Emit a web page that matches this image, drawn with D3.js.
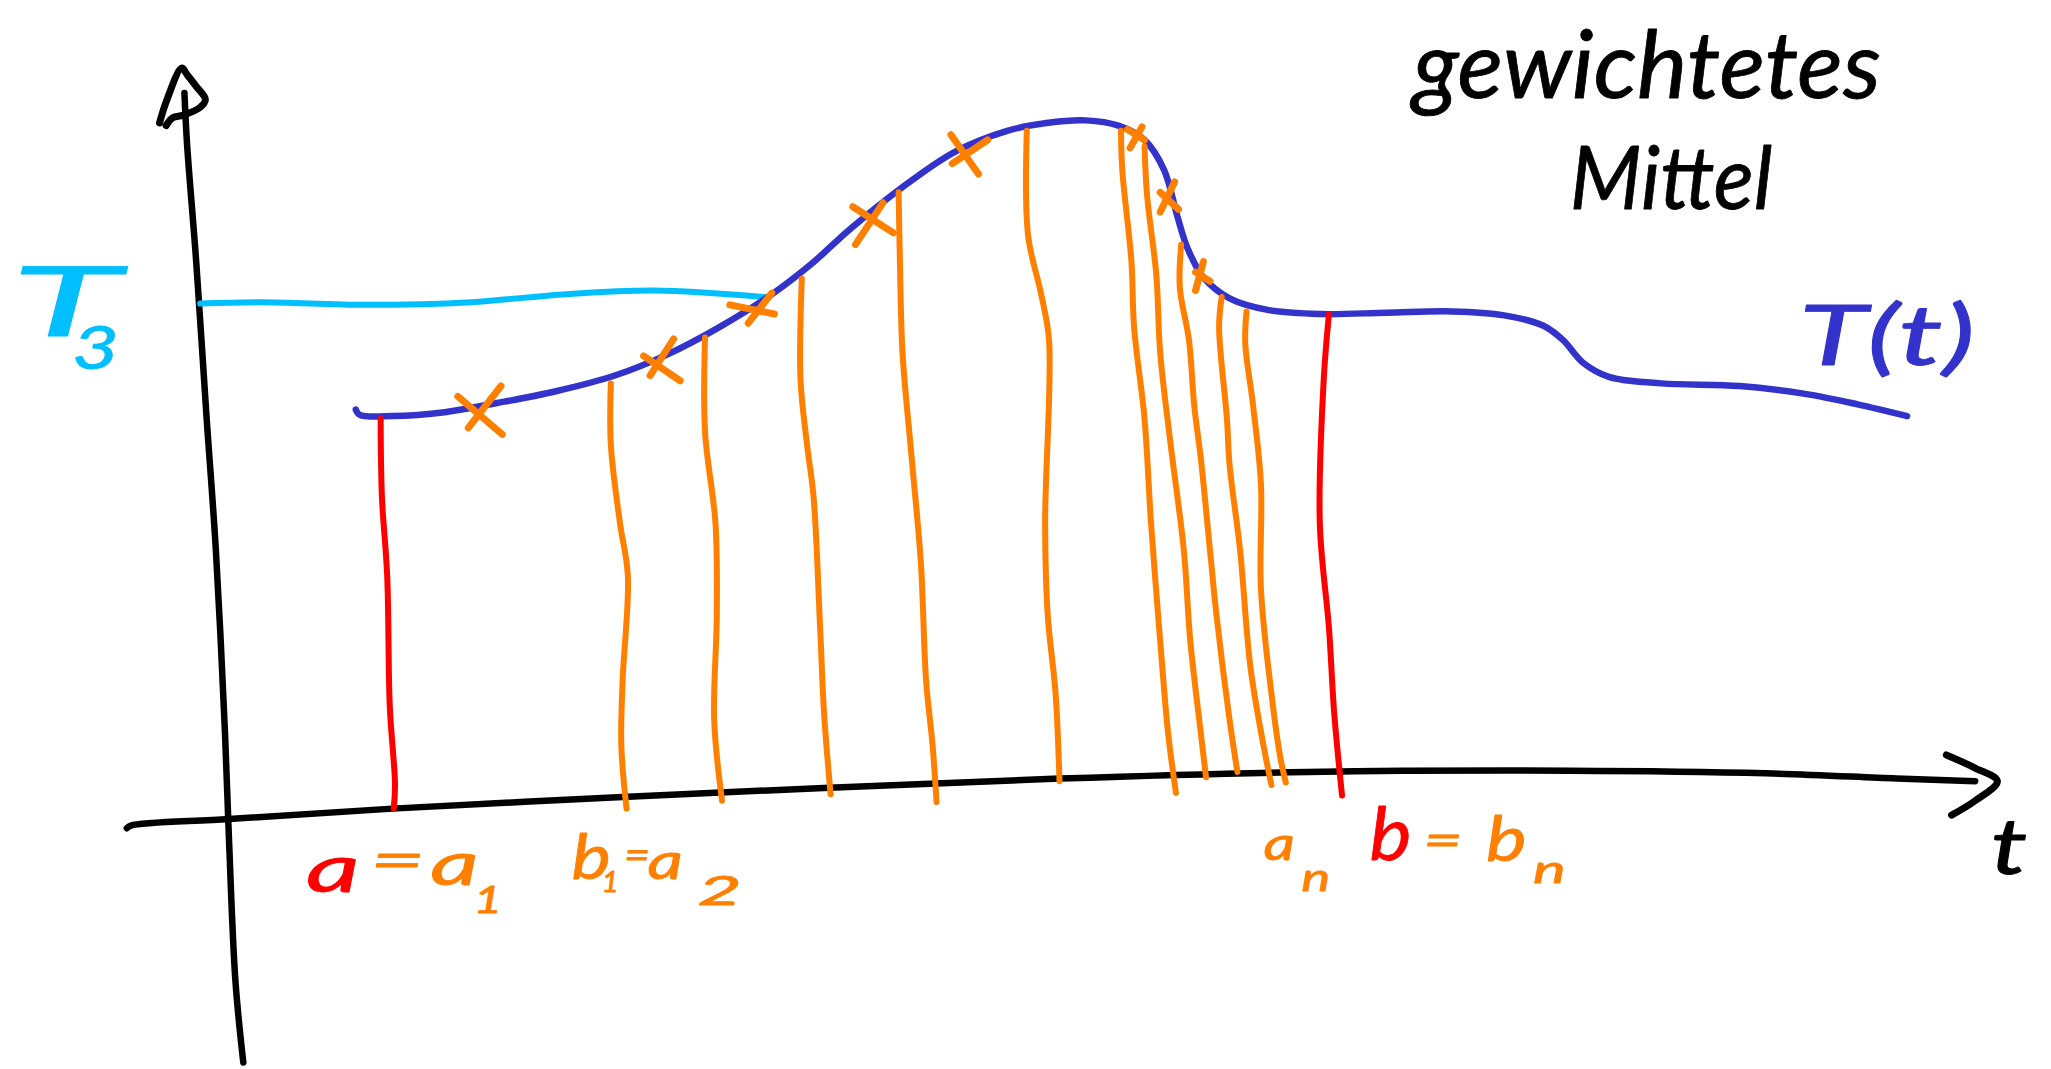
<!DOCTYPE html>
<html>
<head>
<meta charset="utf-8">
<script src="https://cdnjs.cloudflare.com/ajax/libs/d3/7.8.5/d3.min.js"></script>
<style>
  html, body { margin: 0; padding: 0; background: #fff; overflow: hidden; }
  text { font-family: "Lato", "Noto Sans", sans-serif; font-style: italic; stroke-linejoin: round; }
</style>
</head>
<body>
<div id="chart"></div>
<script>
var curve_T = [[272,313],[275,317],[300,318],[340,315],[380,308],[425,299],[470,287],[510,271],[550,250],[590,225],[620,202],[650,175],[690,143],[730,116],[770,100],[800,94],[830,92],[855,96],[875,107],[890,130],[900,165],[908,190],[920,212],[940,228],[970,237],[1010,240],[1060,239],[1110,238],[1150,241],[1180,249],[1195,260],[1210,277],[1230,288],[1270,293],[1330,295],[1380,301],[1420,309],[1458,318]];
var curve_T3 = [[153,232],[200,231],[280,233],[360,231],[430,225],[500,222],[585,227]];

var axis_T = [[141,71],[143,110],[150,200],[158,320],[165,420],[172,560],[175,640],[180,750],[186,812]];
var axis_T_head = [[122,94],[127,78],[139,52],[143,57],[150,66],[157,76],[153,82],[140,88],[132,90],[127,96]];
var axis_t = [[97,633],[100,631],[175,626],[300,618],[480,609],[634,602],[810,595],[1000,590],[1200,589],[1350,591],[1450,595],[1510,597]];
var axis_t_head = [[1488,577],[1510,587],[1527,597],[1510,612],[1492,623]];

var bounds_red = [
  [[291,320],[292,380],[296,440],[298,540],[302,600],[301,618]],
  [[1016,240],[1012,290],[1009,400],[1016,480],[1020,545],[1026,608]]
];
var bounds_orange = [
  [[467,293],[467,340],[474,400],[480,440],[476,520],[475,570],[479,618]],
  [[539,258],[539,330],[547,400],[548,470],[546,550],[552,612]],
  [[613,213],[612,290],[617,340],[622,380],[627,480],[630,545],[635,607]],
  [[687,147],[688,200],[690,270],[697,350],[704,430],[708,520],[713,570],[716,613]],
  [[785,100],[786,180],[796,225],[802,260],[799,400],[801,470],[807,530],[810,597]],
  [[857,100],[858,130],[865,200],[867,250],[875,320],[880,400],[887,490],[893,560],[899,606]],
  [[875,112],[877,150],[884,210],[887,270],[895,340],[905,420],[910,490],[918,560],[922,594]],
  [[903,187],[902,220],[909,260],[913,310],[918,350],[925,420],[930,470],[940,550],[946,590]],
  [[934,227],[932,250],[938,320],[940,355],[948,420],[956,510],[966,570],[972,600]],
  [[953,238],[952,262],[958,310],[964,370],[964,450],[972,530],[979,580],[983,598]]
];
// the crosses on the curve, two strokes each
var crosses = [
  [[350,303],[384,332]], [[383,295],[358,327]],
  [[492,272],[520,291]], [[515,259],[497,287]],
  [[558,233],[592,240]], [[590,224],[572,247]],
  [[652,158],[683,178]], [[675,155],[654,187]],
  [[727,103],[748,133]], [[755,107],[728,125]],
  [[862,99],[875,107]], [[873,97],[864,113]],
  [[887,147],[901,160]], [[898,139],[887,162]],
  [[914,208],[925,215]], [[920,200],[914,222]]
];

var BLACK = "#000000", BLUE = "#3333cc", CYAN = "#00bfff", ORANGE = "#ff8000", RED = "#ff0000";

var W = 2051, H = 1069;
var x = d3.scaleLinear().domain([0, 1568]).range([0, W]);
var y = d3.scaleLinear().domain([0, 817]).range([0, H]);

var svg = d3.select("#chart").append("svg")
    .attr("width", W)
    .attr("height", H)
    .style("display", "block");

var line = d3.line()
    .x(function(d) { return x(d[0]); })
    .y(function(d) { return y(d[1]); })
    .curve(d3.curveCatmullRom);

function stroke(points, color, w) {
    svg.append("path")
        .attr("d", line(points))
        .attr("fill", "none")
        .attr("stroke", color)
        .attr("stroke-width", w)
        .attr("stroke-linecap", "round")
        .attr("stroke-linejoin", "round");
}

function label(str, t, T, size, color, width) {
    svg.append("text")
        .attr("x", x(t))
        .attr("y", y(T))
        .attr("font-size", size)
        .attr("fill", color)
        .attr("stroke", color)
        .attr("stroke-width", 0.8)
        .attr("textLength", x(width))
        .attr("lengthAdjust", "spacingAndGlyphs")
        .text(str);
}

// axes
stroke(axis_T, BLACK, 6.5);
stroke(axis_T_head, BLACK, 7);
stroke(axis_t, BLACK, 6.5);
stroke(axis_t_head, BLACK, 7);

// T3 level and the curve
stroke(curve_T3, CYAN, 6);
stroke(curve_T, BLUE, 6.5);

// subdivisions
bounds_orange.forEach(function(b) { stroke(b, ORANGE, 6); });
bounds_red.forEach(function(b) { stroke(b, RED, 6); });
crosses.forEach(function(c) { stroke(c, ORANGE, 7); });

// title
label("gewichtetes", 1080, 75, 94, BLACK, 358);
label("Mittel", 1200, 160, 88, BLACK, 155);

// curve names
label("T", 8, 257, 98, CYAN, 84);
label("3", 55, 282, 60, CYAN, 36);
label("T(t)", 1375, 279, 84, BLUE, 135);

// labels under the axis
label("a", 234, 682, 66, RED, 41);
label("=", 283, 672, 56, ORANGE, 42);
label("a", 329, 676, 60, ORANGE, 37);
label("1", 362, 698, 36, ORANGE, 22);
label("b", 437, 672, 62, ORANGE, 30);
label("1", 460, 682, 28, ORANGE, 13);
label("=", 477, 664, 40, ORANGE, 20);
label("a", 495, 672, 50, ORANGE, 27);
label("2", 533, 692, 40, ORANGE, 34);
label("a", 966, 657, 46, ORANGE, 24);
label("n", 995, 681, 38, ORANGE, 22);
label("b", 1047, 657, 74, RED, 32);
label("=", 1088, 655, 48, ORANGE, 30);
label("b", 1136, 658, 62, ORANGE, 31);
label("n", 1172, 675, 38, ORANGE, 25);
label("t", 1522, 668, 78, BLACK, 28);
</script>
</body>
</html>
